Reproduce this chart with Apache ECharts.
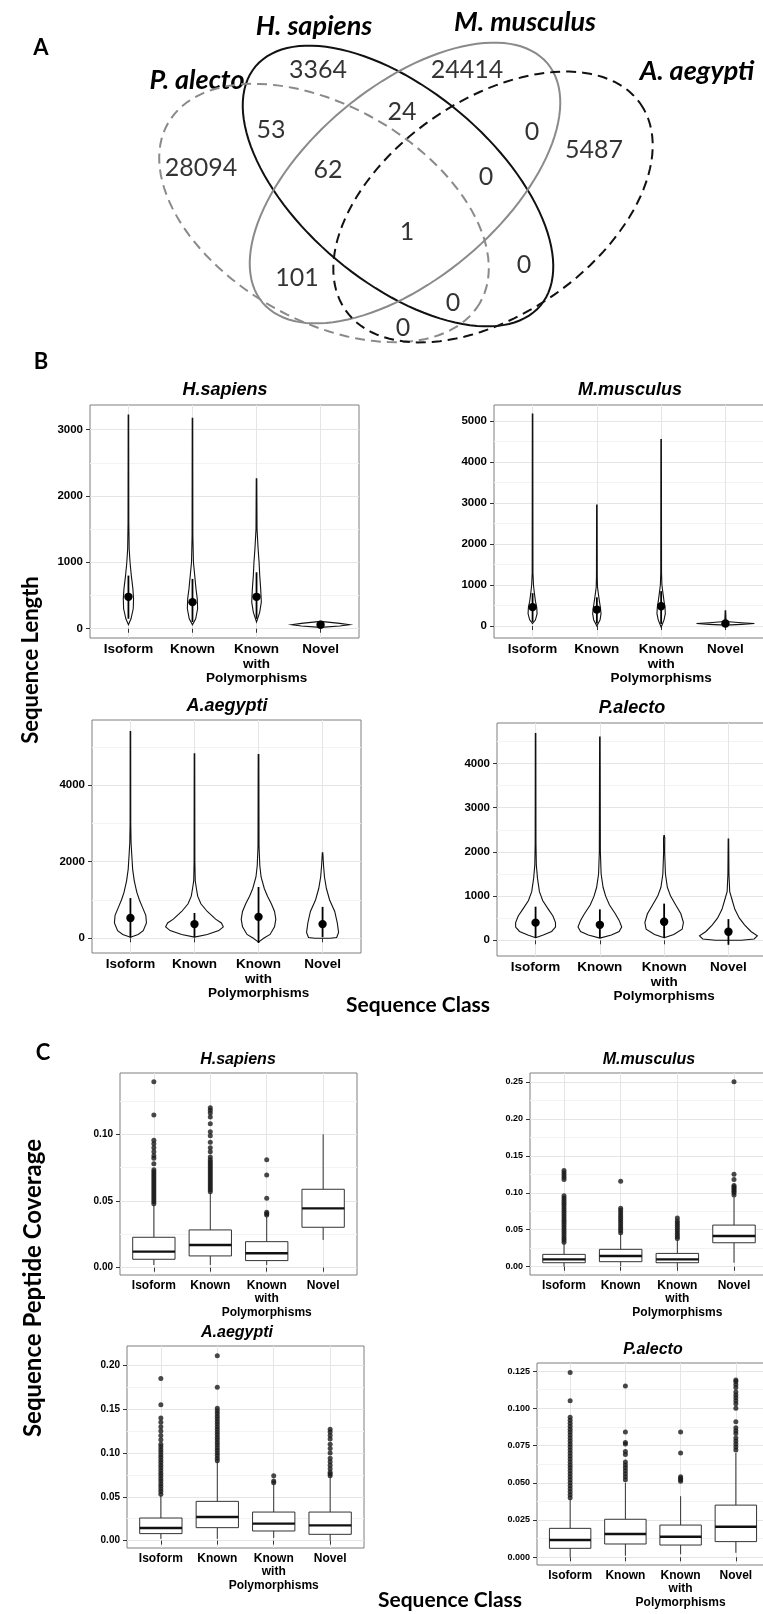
<!DOCTYPE html>
<html>
<head>
<meta charset="utf-8">
<script src="https://cdn.jsdelivr.net/npm/echarts@6/dist/echarts.min.js"></script>
<style>
    html, body { margin: 0; padding: 0; background: #fff; }
    #chart { width: 763px; height: 1614px; }
</style>
</head>
<body>
<div id="chart"></div>
<script>
// ---------- data ----------
const classLabels = ['Isoform', 'Known', 'Known\nwith\nPolymorphisms', 'Novel'];
const classPos = [1, 2, 3, 4];

// A: venn
const vennSets = ['H. sapiens', 'M. musculus', 'P. alecto', 'A. aegypti'];
const vennCounts = [3364, 24414, 28094, 5487, 53, 24, 0, 62, 0, 1, 101, 0, 0, 0];

// B: sequence length violins, each profile = [length, half width in class units]
const hsLengthViolins = [
    [[60, 0], [150, 0.04], [300, 0.075], [450, 0.08], [600, 0.07], [800, 0.045], [1000, 0.025], [1200, 0.012], [1600, 0.006], [3220, 0.004]],
    [[60, 0], [150, 0.05], [300, 0.08], [450, 0.075], [600, 0.055], [800, 0.035], [1000, 0.015], [1400, 0.006], [3170, 0.004]],
    [[100, 0], [250, 0.05], [400, 0.075], [600, 0.065], [800, 0.05], [1000, 0.04], [1200, 0.025], [1500, 0.008], [2260, 0.004]],
    [[20, 0], [40, 0.3], [60, 0.45], [80, 0.3], [110, 0]]
];
const hsLengthMeans = [480, 400, 480, 60];
const hsLengthSpread = [[150, 800], [100, 750], [150, 850], [40, 80]];

const mmLengthViolins = [
    [[60, 0], [150, 0.045], [300, 0.07], [450, 0.065], [600, 0.045], [800, 0.028], [1000, 0.014], [1300, 0.006], [5170, 0.004]],
    [[0, 0], [150, 0.05], [300, 0.065], [450, 0.055], [600, 0.04], [800, 0.022], [950, 0.01], [1200, 0.006], [2950, 0.004]],
    [[-30, 0], [150, 0.045], [300, 0.065], [450, 0.06], [600, 0.045], [800, 0.028], [1000, 0.012], [1300, 0.006], [4550, 0.004]],
    [[20, 0], [40, 0.25], [60, 0.45], [80, 0.25], [110, 0.01], [370, 0.004]]
];
const mmLengthMeans = [460, 400, 480, 60];
const mmLengthSpread = [[100, 800], [60, 700], [50, 850], [30, 90]];

const aaLengthViolins = [
    [[30, 0], [100, 0.12], [200, 0.2], [400, 0.25], [600, 0.24], [800, 0.19], [1000, 0.14], [1200, 0.1], [1500, 0.06], [1800, 0.035], [2200, 0.02], [2500, 0.01], [3000, 0.005], [5400, 0.004]],
    [[30, 0], [100, 0.2], [200, 0.38], [300, 0.45], [400, 0.42], [500, 0.33], [700, 0.2], [900, 0.1], [1100, 0.05], [1300, 0.03], [1500, 0.012], [2000, 0.006], [4820, 0.004]],
    [[-100, 0], [0, 0.08], [100, 0.18], [300, 0.25], [500, 0.27], [700, 0.25], [900, 0.2], [1100, 0.14], [1300, 0.09], [1600, 0.04], [1900, 0.02], [2400, 0.008], [4800, 0.005]],
    [[0, 0.12], [20, 0.22], [150, 0.25], [400, 0.23], [700, 0.19], [1000, 0.11], [1300, 0.06], [1600, 0.03], [1900, 0.015], [2230, 0.004]]
];
const aaLengthMeans = [530, 370, 560, 370];
const aaLengthSpread = [[20, 1050], [30, 660], [-120, 1340], [30, 820]];

const paLengthViolins = [
    [[60, 0], [120, 0.12], [200, 0.25], [300, 0.31], [400, 0.31], [550, 0.27], [700, 0.2], [900, 0.11], [1100, 0.06], [1400, 0.03], [1700, 0.012], [2200, 0.006], [4680, 0.004]],
    [[50, 0], [120, 0.18], [200, 0.3], [300, 0.34], [450, 0.3], [600, 0.24], [800, 0.15], [1000, 0.09], [1200, 0.05], [1500, 0.02], [2000, 0.008], [4600, 0.004]],
    [[60, 0], [130, 0.15], [250, 0.28], [400, 0.3], [600, 0.26], [800, 0.18], [1000, 0.1], [1200, 0.05], [1500, 0.02], [2000, 0.008], [2300, 0.01], [2370, 0.004]],
    [[0, 0.2], [30, 0.4], [100, 0.45], [200, 0.35], [350, 0.25], [500, 0.17], [700, 0.1], [900, 0.06], [1100, 0.02], [1500, 0.008], [2290, 0.004]]
];
const paLengthMeans = [400, 350, 420, 195];
const paLengthSpread = [[60, 760], [50, 700], [60, 830], [-100, 480]];

// C: peptide coverage boxes [min, q1, median, q3, max] and outliers
const hsCoverageBoxes = [
    [0.002, 0.0063, 0.012, 0.0228, 0.047],
    [0.002, 0.0088, 0.017, 0.0283, 0.056],
    [0.002, 0.0053, 0.0108, 0.0195, 0.038],
    [0.0208, 0.0303, 0.0445, 0.0588, 0.10]
];
const hsCoverageOutliers = [
    [0.048, 0.0495, 0.051, 0.0525, 0.054, 0.0555, 0.057, 0.0585, 0.06, 0.0615, 0.063, 0.0645, 0.066, 0.0675, 0.069, 0.0705, 0.072, 0.0735, 0.078, 0.082, 0.084, 0.087, 0.09, 0.093, 0.0955, 0.1145, 0.1395],
    [0.057, 0.0585, 0.06, 0.0615, 0.063, 0.0645, 0.066, 0.0675, 0.069, 0.0705, 0.072, 0.0735, 0.075, 0.0765, 0.078, 0.0795, 0.081, 0.083, 0.087, 0.09, 0.094, 0.099, 0.102, 0.108, 0.113, 0.116, 0.118, 0.12],
    [0.0395, 0.0405, 0.0415, 0.052, 0.0695, 0.081],
    []
];

const mmCoverageBoxes = [
    [0.0, 0.0054, 0.01, 0.0167, 0.032],
    [0.001, 0.0068, 0.0145, 0.0235, 0.045],
    [0.0, 0.0054, 0.01, 0.018, 0.036],
    [0.0054, 0.0324, 0.0415, 0.0563, 0.094]
];
const mmCoverageOutliers = [
    [0.033, 0.036, 0.039, 0.042, 0.045, 0.048, 0.051, 0.054, 0.057, 0.06, 0.063, 0.066, 0.069, 0.072, 0.075, 0.078, 0.081, 0.084, 0.087, 0.09, 0.093, 0.096, 0.118, 0.121, 0.124, 0.127, 0.13],
    [0.046, 0.049, 0.052, 0.055, 0.058, 0.061, 0.064, 0.067, 0.07, 0.073, 0.076, 0.079, 0.1156],
    [0.038, 0.041, 0.044, 0.047, 0.05, 0.053, 0.056, 0.059, 0.062, 0.066],
    [0.097, 0.1, 0.102, 0.104, 0.106, 0.108, 0.11, 0.118, 0.125, 0.25]
];

const aaCoverageBoxes = [
    [0.002, 0.008, 0.0144, 0.0258, 0.0516],
    [0.002, 0.0148, 0.0269, 0.0448, 0.09],
    [0.003, 0.011, 0.0194, 0.0326, 0.064],
    [0.0, 0.0072, 0.0174, 0.0326, 0.072]
];
const aaCoverageOutliers = [
    [0.053, 0.056, 0.059, 0.062, 0.065, 0.068, 0.071, 0.074, 0.077, 0.08, 0.083, 0.086, 0.089, 0.092, 0.095, 0.098, 0.101, 0.104, 0.107, 0.11, 0.115, 0.12, 0.125, 0.13, 0.135, 0.14, 0.155, 0.185],
    [0.091, 0.094, 0.097, 0.1, 0.103, 0.106, 0.109, 0.112, 0.115, 0.118, 0.121, 0.124, 0.127, 0.13, 0.133, 0.136, 0.139, 0.142, 0.145, 0.148, 0.151, 0.175, 0.211],
    [0.066, 0.068, 0.074],
    [0.074, 0.076, 0.078, 0.082, 0.086, 0.09, 0.094, 0.1, 0.105, 0.11, 0.116, 0.12, 0.124, 0.127]
];

const paCoverageBoxes = [
    [0.0, 0.006, 0.0116, 0.0194, 0.039],
    [0.001, 0.0089, 0.0156, 0.0255, 0.05],
    [0.002, 0.0082, 0.0138, 0.0216, 0.041],
    [0.003, 0.0105, 0.0205, 0.035, 0.07]
];
const paCoverageOutliers = [
    [0.040, 0.042, 0.044, 0.046, 0.048, 0.050, 0.052, 0.054, 0.056, 0.058, 0.060, 0.062, 0.064, 0.066, 0.068, 0.070, 0.072, 0.074, 0.076, 0.078, 0.080, 0.082, 0.084, 0.086, 0.088, 0.090, 0.092, 0.094, 0.105, 0.124],
    [0.052, 0.054, 0.056, 0.058, 0.06, 0.062, 0.064, 0.069, 0.071, 0.076, 0.077, 0.084, 0.115],
    [0.051, 0.052, 0.053, 0.054, 0.07, 0.084],
    [0.072, 0.074, 0.076, 0.078, 0.08, 0.083, 0.085, 0.087, 0.091, 0.1, 0.103, 0.105, 0.107, 0.109, 0.111, 0.114, 0.116, 0.118, 0.119]
];

// ---------- layout ----------
// venn ellipses: centre x, centre y, semi axes, tilt (deg, clockwise)
const vennShapeLayout = [[398, 186, 186, 96, 40], [405, 183, 186, 96, -40], [324, 213, 180, 107, 30], [493, 207, 180, 107, -35]];
const vennShapeStyle = [
    { stroke: '#111', dash: null },
    { stroke: '#8a8a8a', dash: null },
    { stroke: '#8a8a8a', dash: [10, 6] },
    { stroke: '#111', dash: [10, 6] }
];
const vennCountLayout = [[318, 70], [467, 70], [201, 168], [594, 150], [271, 130], [402, 112], [532, 132], [328, 170], [486, 177], [407, 232], [297, 278], [524, 265], [453, 303], [403, 328]];
const vennNameLayout = [[314, 26], [525, 22], [197, 80], [697, 71]];

const lengthLayout = [
    { name: 'H.sapiens', left: 90, top: 405, width: 269, height: 233, min: -140, max: 3370, major: [0, 1000, 2000, 3000], minor: [500, 1500, 2500], title: [225, 390] },
    { name: 'M.musculus', left: 494, top: 405, width: 270, height: 233, min: -293, max: 5390, major: [0, 1000, 2000, 3000, 4000, 5000], minor: [500, 1500, 2500, 3500, 4500], title: [630, 390] },
    { name: 'A.aegypti', left: 92, top: 720, width: 269, height: 233, min: -384, max: 5700, major: [0, 2000, 4000], minor: [1000, 3000, 5000], title: [227, 706] },
    { name: 'P.alecto', left: 497, top: 723, width: 270, height: 233, min: -355, max: 4916, major: [0, 1000, 2000, 3000, 4000], minor: [500, 1500, 2500, 3500, 4500], title: [632, 708] }
];
const coverageLayout = [
    { name: 'H.sapiens', left: 120, top: 1073, width: 237, height: 202, min: -0.0055, max: 0.146, major: [0, 0.05, 0.1], minor: [0.025, 0.075, 0.125], dec: 2, ySize: 10, title: [238, 1060] },
    { name: 'M.musculus', left: 530, top: 1073, width: 238, height: 202, min: -0.0112, max: 0.262, major: [0, 0.05, 0.1, 0.15, 0.2, 0.25], minor: [0.025, 0.075, 0.125, 0.175, 0.225], dec: 2, ySize: 9, title: [649, 1060] },
    { name: 'A.aegypti', left: 127, top: 1346, width: 237, height: 202, min: -0.0084, max: 0.222, major: [0, 0.05, 0.1, 0.15, 0.2], minor: [0.025, 0.075, 0.125, 0.175], dec: 2, ySize: 10, title: [237, 1333] },
    { name: 'P.alecto', left: 537, top: 1363, width: 232, height: 202, min: -0.0052, max: 0.1304, major: [0, 0.025, 0.05, 0.075, 0.1, 0.125], minor: [0.0125, 0.0375, 0.0625, 0.0875, 0.1125], dec: 3, ySize: 9, title: [653, 1350] }
];

const tickFont = 'Liberation Sans, Arial, sans-serif';
const calibriLike = 'Lato, "Open Sans", sans-serif';

// ---------- build ----------
const grids = [], xAxes = [], yAxes = [], series = [], graphics = [];

// venn: hidden pixel grid
grids.push({ left: 0, top: 0, width: 763, height: 345, show: false, outerBoundsMode: 'none' });
xAxes.push({ gridIndex: 0, type: 'value', min: 0, max: 763, show: false });
yAxes.push({ gridIndex: 0, type: 'value', min: 0, max: 345, inverse: true, show: false });

series.push({
    type: 'custom', xAxisIndex: 0, yAxisIndex: 0, silent: true, clip: false,
    data: vennShapeLayout,
    renderItem: function (params, api) {
        const cx = api.value(0), cy = api.value(1), a = api.value(2), b = api.value(3);
        const phi = api.value(4) * Math.PI / 180;
        const pts = [];
        for (let k = 0; k < 120; k++) {
            const t = k / 120 * Math.PI * 2;
            const ex = a * Math.cos(t), ey = b * Math.sin(t);
            pts.push(api.coord([cx + ex * Math.cos(phi) - ey * Math.sin(phi), cy + ex * Math.sin(phi) + ey * Math.cos(phi)]));
        }
        const st = vennShapeStyle[params.dataIndex];
        return {
            type: 'polygon', shape: { points: pts },
            style: { fill: 'none', stroke: st.stroke, lineWidth: 2, lineDash: st.dash }
        };
    }
});
series.push({
    type: 'scatter', xAxisIndex: 0, yAxisIndex: 0, silent: true,
    symbolSize: 1, itemStyle: { color: 'rgba(0,0,0,0)' },
    data: vennCountLayout.map((p, i) => [p[0], p[1], vennCounts[i]]),
    label: {
        show: true, position: 'inside', formatter: p => String(p.value[2]),
        fontSize: 25, fontFamily: calibriLike, color: '#000'
    }
});
vennSets.forEach((name, i) => {
    graphics.push({
        type: 'text', x: vennNameLayout[i][0], y: vennNameLayout[i][1],
        style: { text: name, font: 'italic bold 27px ' + calibriLike, fill: '#000', align: 'center', verticalAlign: 'middle' }
    });
});

function xLabelAxis(g, values, xSize, xLine, withLines) {
    return {
        gridIndex: g, type: 'value', min: 0.4, max: 4.6, position: 'bottom',
        axisLine: { show: false },
        axisTick: { show: withLines, customValues: withLines ? classPos : values, length: 4, lineStyle: { color: '#333' } },
        axisLabel: {
            customValues: values, formatter: v => classLabels[Math.round(v) - 1],
            fontFamily: tickFont, fontWeight: 'bold', fontSize: xSize, lineHeight: xLine, color: '#000', margin: 4
        },
        splitLine: { show: withLines, lineStyle: { color: '#e5e5e5', width: 1 } }
    };
}

function addPanel(L, xSize, xLine, ySize, yFmt) {
    const g = grids.length;
    grids.push({
        left: L.left, top: L.top, width: L.width, height: L.height, show: true,
        borderColor: '#7f7f7f', borderWidth: 1, backgroundColor: '#fff', outerBoundsMode: 'none'
    });
    const xi = xAxes.length;
    // wide middle label sits on its own axis so the overlap check never hides it
    xAxes.push(xLabelAxis(g, [1, 2, 4], xSize, xLine, true));
    xAxes.push(xLabelAxis(g, [3], xSize, xLine, false));
    const yi = yAxes.length;
    yAxes.push({
        gridIndex: g, type: 'value', min: L.min, max: L.max, position: 'left',
        axisLine: { show: false },
        axisTick: { show: true, customValues: L.major, length: 4, lineStyle: { color: '#333' } },
        axisLabel: { customValues: L.major, formatter: yFmt, fontFamily: tickFont, fontWeight: 'bold', fontSize: ySize, color: '#000', margin: 7 },
        splitLine: { show: true, lineStyle: { color: '#e5e5e5', width: 1 } }
    });
    yAxes.push({
        gridIndex: g, type: 'value', min: L.min, max: L.max, position: 'right',
        axisLine: { show: false },
        axisTick: { show: false, customValues: L.minor },
        axisLabel: { show: false, customValues: L.minor },
        splitLine: { show: true, lineStyle: { color: '#f3f3f3', width: 1 } }
    });
    return { xi: xi, yi: yi };
}

function violinSeries(ax, profiles, means, spreads) {
    return {
        type: 'custom', xAxisIndex: ax.xi, yAxisIndex: ax.yi, silent: true,
        data: classPos.map((x, i) => [x, means[i], spreads[i][0], spreads[i][1]]),
        renderItem: function (params, api) {
            const prof = profiles[params.dataIndex];
            const x = api.value(0);
            const right = prof.map(p => api.coord([x + p[1], p[0]]));
            const left = prof.slice().reverse().map(p => api.coord([x - p[1], p[0]]));
            const m = api.coord([x, api.value(1)]);
            const lo = api.coord([x, api.value(2)]);
            const hi = api.coord([x, api.value(3)]);
            return {
                type: 'group', children: [
                    { type: 'polygon', shape: { points: right.concat(left) }, style: { fill: '#fff', stroke: '#111', lineWidth: 1.1 } },
                    { type: 'line', shape: { x1: lo[0], y1: lo[1], x2: hi[0], y2: hi[1] }, style: { stroke: '#000', lineWidth: 1.8 } },
                    { type: 'circle', shape: { cx: m[0], cy: m[1], r: 4.2 }, style: { fill: '#000' } }
                ]
            };
        }
    };
}

function boxSeries(ax, boxes) {
    return {
        type: 'custom', xAxisIndex: ax.xi, yAxisIndex: ax.yi, silent: true,
        data: classPos.map((x, i) => [x].concat(boxes[i])),
        renderItem: function (params, api) {
            const x = api.value(0);
            const half = api.size([0.375, 0])[0];
            const lo = api.coord([x, api.value(1)]);
            const q1 = api.coord([x, api.value(2)]);
            const md = api.coord([x, api.value(3)]);
            const q3 = api.coord([x, api.value(4)]);
            const hi = api.coord([x, api.value(5)]);
            const ln = { stroke: '#333', lineWidth: 1 };
            return {
                type: 'group', children: [
                    { type: 'line', shape: { x1: lo[0], y1: lo[1], x2: q1[0], y2: q1[1] }, style: ln },
                    { type: 'line', shape: { x1: q3[0], y1: q3[1], x2: hi[0], y2: hi[1] }, style: ln },
                    { type: 'rect', shape: { x: q1[0] - half, y: q3[1], width: half * 2, height: q1[1] - q3[1] }, style: { fill: '#fff', stroke: '#333', lineWidth: 1 } },
                    { type: 'line', shape: { x1: md[0] - half, y1: md[1], x2: md[0] + half, y2: md[1] }, style: { stroke: '#111', lineWidth: 2.4 } }
                ]
            };
        }
    };
}

function outlierSeries(ax, outliers) {
    const pts = [];
    outliers.forEach((vals, i) => vals.forEach(v => pts.push([classPos[i], v])));
    return {
        type: 'scatter', xAxisIndex: ax.xi, yAxisIndex: ax.yi, silent: true,
        symbol: 'circle', symbolSize: 5, itemStyle: { color: '#1a1a1a' }, data: pts
    };
}

const lengthData = [
    [hsLengthViolins, hsLengthMeans, hsLengthSpread],
    [mmLengthViolins, mmLengthMeans, mmLengthSpread],
    [aaLengthViolins, aaLengthMeans, aaLengthSpread],
    [paLengthViolins, paLengthMeans, paLengthSpread]
];
lengthLayout.forEach((L, i) => {
    const ax = addPanel(L, 13.5, 14.7, 11.5, v => String(v));
    series.push(violinSeries(ax, lengthData[i][0], lengthData[i][1], lengthData[i][2]));
    graphics.push({
        type: 'text', x: L.title[0], y: L.title[1],
        style: { text: L.name, font: 'italic bold 18px ' + tickFont, fill: '#000', align: 'center', verticalAlign: 'middle' }
    });
});

const coverageData = [
    [hsCoverageBoxes, hsCoverageOutliers],
    [mmCoverageBoxes, mmCoverageOutliers],
    [aaCoverageBoxes, aaCoverageOutliers],
    [paCoverageBoxes, paCoverageOutliers]
];
coverageLayout.forEach((L, i) => {
    const ax = addPanel(L, 12, 13.3, L.ySize, v => v.toFixed(L.dec));
    series.push(boxSeries(ax, coverageData[i][0]));
    series.push(outlierSeries(ax, coverageData[i][1]));
    graphics.push({
        type: 'text', x: L.title[0], y: L.title[1],
        style: { text: L.name, font: 'italic bold 16px ' + tickFont, fill: '#000', align: 'center', verticalAlign: 'middle' }
    });
});

// panel letters and axis titles
[['A', 41, 48], ['B', 41, 362], ['C', 43, 1053]].forEach(t => {
    graphics.push({ type: 'text', x: t[1], y: t[2], style: { text: t[0], font: 'bold 22px ' + calibriLike, fill: '#000', align: 'center', verticalAlign: 'middle' } });
});
graphics.push({ type: 'text', x: 31, y: 660, rotation: Math.PI / 2, style: { text: 'Sequence Length', font: 'bold 22px ' + calibriLike, fill: '#000', align: 'center', verticalAlign: 'middle' } });
graphics.push({ type: 'text', x: 418, y: 1005, style: { text: 'Sequence Class', font: 'bold 21px ' + calibriLike, fill: '#000', align: 'center', verticalAlign: 'middle' } });
graphics.push({ type: 'text', x: 33, y: 1288, rotation: Math.PI / 2, style: { text: 'Sequence Peptide Coverage', font: 'bold 24px ' + calibriLike, fill: '#000', align: 'center', verticalAlign: 'middle' } });
graphics.push({ type: 'text', x: 450, y: 1600, style: { text: 'Sequence Class', font: 'bold 21px ' + calibriLike, fill: '#000', align: 'center', verticalAlign: 'middle' } });

const myChart = echarts.init(document.getElementById('chart'));
const option = {
    backgroundColor: '#fff',
    animation: false,
    grid: grids,
    xAxis: xAxes,
    yAxis: yAxes,
    series: series,
    graphic: graphics
};
myChart.setOption(option);
</script>
</body>
</html>
